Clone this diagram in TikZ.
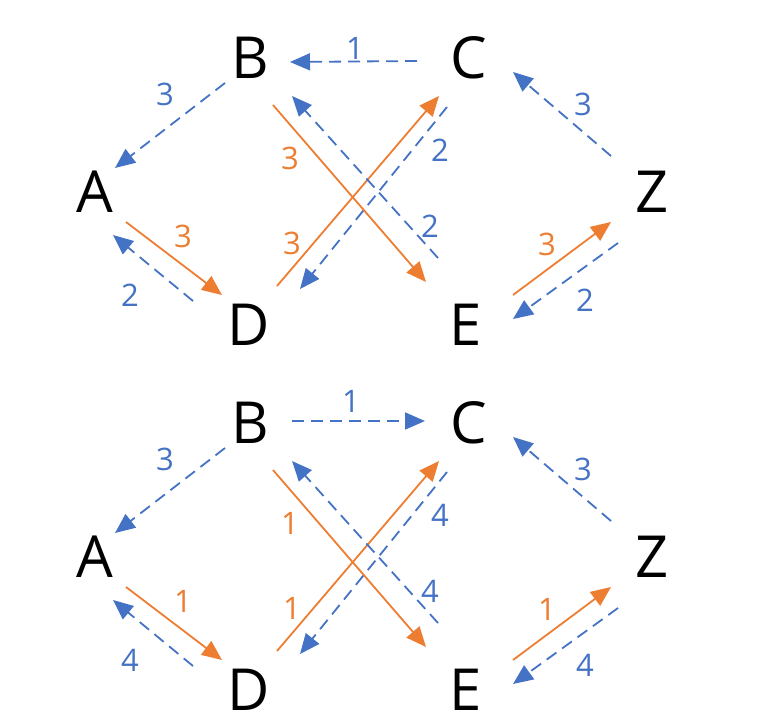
\documentclass[tikz,border=0pt]{standalone}
\usepackage{fontspec}
\setmainfont{Open Sans}
\usetikzlibrary{arrows.meta, positioning}
\definecolor{costblue}{HTML}{4472C4}
\definecolor{costorange}{HTML}{ED7D31}

\begin{document}
\begin{tikzpicture}[
    x=1pt, y=1pt, on grid,
    vertex/.style = {inner sep=0pt, font = \fontsize{58}{58}\selectfont},
    weight/.style = {inner sep=0pt, font = \fontsize{31}{31}\selectfont},
    blueedge/.style = {draw=costblue, line width=1.8pt, dash pattern=on 12pt off 7pt, -{Triangle[length=20pt, width=17pt, fill=costblue]}},
    orangeedge/.style = {draw=costorange, line width=1.8pt, -{Triangle[length=20pt, width=17pt, fill=costorange]}},
    bluelbl/.style = {weight, text=costblue},
    orangelbl/.style = {weight, text=costorange}]

    \useasboundingbox (0,0) rectangle (761,-728);

    % first graph
    \node[vertex] (A1) at (95,-192) {A};
    \node[vertex, above right=134pt and 155pt of A1] (B1) {B};
    \node[vertex, right=219pt of B1] (C1) {C};
    \node[vertex, below right=133pt and 154pt of A1] (D1) {D};
    \node[vertex, right=217pt of D1] (E1) {E};
    \node[vertex, below right=134pt and 183pt of C1] (Z1) {Z};

    \draw[blueedge] ([shift={(-52,-3)}]C1.center) -- node[bluelbl, xshift=1.5pt, yshift=13pt] {1} ([shift={(40,-4)}]B1.center);
    \draw[blueedge] ([shift={(-25,-25)}]B1.center) -- node[bluelbl, xshift=-5pt, yshift=31.5pt] {3} ([shift={(20,24)}]A1.center);
    \draw[orangeedge] ([shift={(31,-30)}]A1.center) -- node[orangelbl, xshift=9pt, yshift=22.5pt] {3} ([shift={(-27,30)}]D1.center);
    \draw[blueedge] ([shift={(-56,24)}]D1.center) -- node[bluelbl, xshift=-23pt, yshift=-27pt] {2} ([shift={(18,-43)}]A1.center);
    \draw[orangeedge] ([shift={(28,39)}]D1.center) -- node[orangelbl, xshift=-66pt, yshift=-52pt] {3} ([shift={(-30,-38)}]C1.center);
    \draw[blueedge] ([shift={(-22,-49)}]C1.center) -- node[bluelbl, xshift=66.5pt, yshift=48pt] {2} ([shift={(51,36)}]D1.center);
    \draw[orangeedge] ([shift={(23,-47)}]B1.center) -- node[orangelbl, xshift=-59.5pt, yshift=35.5pt] {3} ([shift={(-40,43)}]E1.center);
    \draw[blueedge] ([shift={(-28,67)}]E1.center) -- node[bluelbl, xshift=65pt, yshift=-49pt] {2} ([shift={(42,-38)}]B1.center);
    \draw[orangeedge] ([shift={(47,30)}]E1.center) -- node[orangelbl, xshift=-15pt, yshift=14.5pt] {3} ([shift={(-41,-30)}]Z1.center);
    \draw[blueedge] ([shift={(-34,-51)}]Z1.center) -- node[bluelbl, xshift=19.5pt, yshift=-19pt] {2} ([shift={(47,6)}]E1.center);
    \draw[blueedge] ([shift={(-41,36)}]Z1.center) -- node[bluelbl, xshift=21pt, yshift=10pt] {3} ([shift={(44,-14)}]C1.center);

    % second graph
    \node[vertex, below=365pt of A1] (A2) {A};
    \node[vertex, below=365pt of B1] (B2) {B};
    \node[vertex, below=365pt of C1] (C2) {C};
    \node[vertex, below=365pt of D1] (D2) {D};
    \node[vertex, below=365pt of E1] (E2) {E};
    \node[vertex, below=365pt of Z1] (Z2) {Z};

    \draw[blueedge] ([shift={(42,2)}]B2.center) -- node[bluelbl, xshift=-7.5pt, yshift=20pt] {1} ([shift={(-44,2)}]C2.center);
    \draw[blueedge] ([shift={(-25,-25)}]B2.center) -- node[bluelbl, xshift=-5pt, yshift=31.5pt] {3} ([shift={(20,24)}]A2.center);
    \draw[orangeedge] ([shift={(31,-30)}]A2.center) -- node[orangelbl, xshift=9pt, yshift=22.5pt] {1} ([shift={(-27,30)}]D2.center);
    \draw[blueedge] ([shift={(-56,24)}]D2.center) -- node[bluelbl, xshift=-23pt, yshift=-27pt] {4} ([shift={(18,-43)}]A2.center);
    \draw[orangeedge] ([shift={(28,39)}]D2.center) -- node[orangelbl, xshift=-66pt, yshift=-52pt] {1} ([shift={(-30,-38)}]C2.center);
    \draw[blueedge] ([shift={(-22,-49)}]C2.center) -- node[bluelbl, xshift=66.5pt, yshift=48pt] {4} ([shift={(51,36)}]D2.center);
    \draw[orangeedge] ([shift={(23,-47)}]B2.center) -- node[orangelbl, xshift=-59.5pt, yshift=35.5pt] {1} ([shift={(-40,43)}]E2.center);
    \draw[blueedge] ([shift={(-28,67)}]E2.center) -- node[bluelbl, xshift=65pt, yshift=-49pt] {4} ([shift={(42,-38)}]B2.center);
    \draw[orangeedge] ([shift={(47,30)}]E2.center) -- node[orangelbl, xshift=-15pt, yshift=14.5pt] {1} ([shift={(-41,-30)}]Z2.center);
    \draw[blueedge] ([shift={(-34,-51)}]Z2.center) -- node[bluelbl, xshift=19.5pt, yshift=-19pt] {4} ([shift={(47,6)}]E2.center);
    \draw[blueedge] ([shift={(-41,36)}]Z2.center) -- node[bluelbl, xshift=21pt, yshift=10pt] {3} ([shift={(44,-14)}]C2.center);
\end{tikzpicture}
\end{document}
